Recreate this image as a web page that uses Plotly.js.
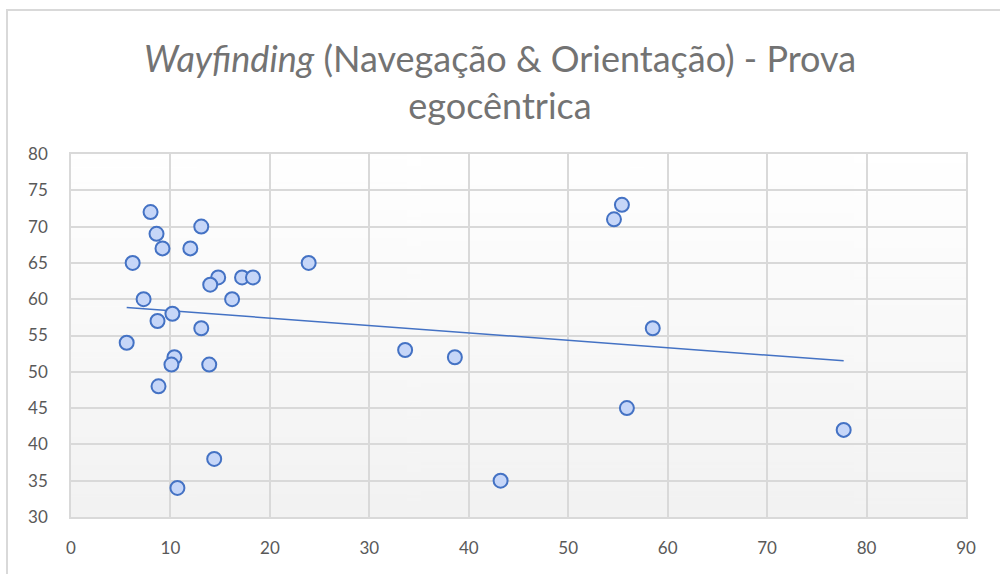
<!DOCTYPE html>
<html>
<head>
<meta charset="utf-8">
<script src="https://cdn.plot.ly/plotly-3.0.1.min.js"></script>
<style>
html,body{margin:0;padding:0;background:#fff;}
#chart{width:1000px;height:574px;position:relative;}
#frame{position:absolute;left:6px;top:9px;width:1000px;height:600px;border-left:2px solid #d9d9d9;border-top:2px solid #d9d9d9;pointer-events:none;}
</style>
</head>
<body>
<div id="chart"></div>
<div id="frame"></div>
<script>
// Data (time vs. score)
const tempo = [8.0, 8.6, 9.2, 6.2, 13.1, 12.0, 14.8, 14.0, 17.2, 18.3, 16.2, 7.3, 10.2, 8.7, 13.1, 5.6, 10.4, 10.1, 13.9, 8.8, 14.4, 10.7, 23.9, 33.6, 38.6, 43.2, 54.6, 55.4, 58.5, 55.9, 77.7];
const pontuacao = [72, 69, 67, 65, 70, 67, 63, 62, 63, 63, 60, 60, 58, 57, 56, 54, 52, 51, 51, 48, 38, 34, 65, 53, 52, 35, 71, 73, 56, 45, 42];
const xTicks = [0, 10, 20, 30, 40, 50, 60, 70, 80, 90];
const yTicks = [30, 35, 40, 45, 50, 55, 60, 65, 70, 75, 80];

// Linear trendline (least squares), computed from the data
const n = tempo.length;
const mx = tempo.reduce((a,b)=>a+b,0)/n;
const my = pontuacao.reduce((a,b)=>a+b,0)/n;
let sxy = 0, sxx = 0;
for (let i=0;i<n;i++){ sxy += (tempo[i]-mx)*(pontuacao[i]-my); sxx += (tempo[i]-mx)**2; }
const slope = sxy/sxx, intercept = my - slope*mx;
const xmin = Math.min(...tempo), xmax = Math.max(...tempo);
const trendX = [xmin, xmax];
const trendY = trendX.map(v => intercept + slope*v);

// Gradient background for the plot area
const cv = document.createElement('canvas');
cv.width = 4; cv.height = 256;
const ctx = cv.getContext('2d');
const g = ctx.createLinearGradient(0,0,0,256);
g.addColorStop(0,'#ffffff');
g.addColorStop(1,'#f2f2f2');
ctx.fillStyle = g; ctx.fillRect(0,0,4,256);
const bg = cv.toDataURL();

const font = 'Lato, "Open Sans", sans-serif';
const traces = [
  {x: trendX, y: trendY, mode: 'lines', type: 'scatter',
   line: {color: '#4472C4', width: 1.5}, hoverinfo: 'skip'},
  {x: tempo, y: pontuacao, mode: 'markers', type: 'scatter',
   marker: {size: 14, color: '#c6d6f8', line: {color: '#4472C4', width: 2}}}
];
const layout = {
  width: 1000, height: 574,
  paper_bgcolor: 'rgba(0,0,0,0)', plot_bgcolor: 'rgba(0,0,0,0)',
  margin: {l: 71, r: 34, t: 154, b: 57},
  showlegend: false,
  title: {text: '<i>Wayfinding</i> (Navegação & Orientação) - Prova<br>egocêntrica',
          font: {family: font, size: 36, color: '#737373'},
          x: 0.5, xanchor: 'center', y: 0.875, yanchor: 'middle', yref: 'container'},
  xaxis: {range: [0, 90], tickvals: xTicks, showgrid: true, gridcolor: '#d9d9d9', gridwidth: 1.5,
          showline: true, mirror: true, linecolor: '#d9d9d9', linewidth: 1.5, zeroline: false,
          ticks: 'outside', ticklen: 15, tickcolor: 'rgba(0,0,0,0)',
          tickfont: {family: font, size: 17, color: '#595959'}},
  yaxis: {range: [30, 80], tickvals: yTicks, showgrid: true, gridcolor: '#d9d9d9', gridwidth: 1.5,
          showline: true, mirror: true, linecolor: '#d9d9d9', linewidth: 1.5, zeroline: false,
          ticks: 'outside', ticklen: 18, tickcolor: 'rgba(0,0,0,0)',
          tickfont: {family: font, size: 17, color: '#595959'}},
  images: [{source: bg, xref: 'paper', yref: 'paper', x: 0, y: 1, sizex: 1, sizey: 1,
            sizing: 'stretch', layer: 'below', xanchor: 'left', yanchor: 'top'}]
};
Plotly.newPlot('chart', traces, layout, {displayModeBar: false});
</script>
</body>
</html>
